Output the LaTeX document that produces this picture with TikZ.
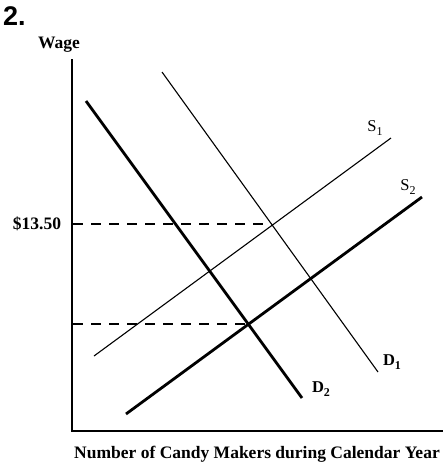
\documentclass[tikz,border=0pt]{standalone}
\usepackage{fontspec}
\setmainfont{Liberation Serif}
\newfontfamily\headfont{Liberation Sans}
\newcommand{\lowidx}[1]{\raisebox{-0.45ex}{\fontsize{12}{12}\selectfont #1}}
\begin{document}
\begin{tikzpicture}[x=1pt,y=-1pt,
    axis/.style={line width=2.8pt},
    thinline/.style={line width=1.1pt},
    boldline/.style={line width=2.8pt},
    guide/.style={line width=1.1pt, dash pattern=on 10pt off 8pt},
    lbl/.style={font=\fontsize{17.5}{20}\selectfont\bfseries, inner sep=0pt},
    curvelbl/.style={font=\fontsize{16.5}{19}\selectfont, inner sep=0pt}]
    \useasboundingbox (0,0) rectangle (445,467);
    % Osy grafu (souradnice v pixelech, y dolu)
    \coordinate (origin) at (72,431);
    \coordinate (ytop) at (72,59);
    \coordinate (xend) at (443,431);
    \draw[axis] (ytop) -- (origin) -- (xend);

    % Nabidka a poptavka
    \coordinate (d1a) at (162,72);  \coordinate (d1b) at (378,372);
    \coordinate (d2a) at (86,101);  \coordinate (d2b) at (302,398);
    \coordinate (s1a) at (94,356);  \coordinate (s1b) at (391,138);
    \coordinate (s2a) at (126,414); \coordinate (s2b) at (422,197);
    \draw[thinline] (d1a) -- (d1b);
    \draw[boldline] (d2a) -- (d2b);
    \draw[thinline] (s1a) -- (s1b);
    \draw[boldline] (s2a) -- (s2b);

    % Rovnovazne body a vodici cary
    \coordinate (eqold) at (271,224);
    \coordinate (eqnew) at (247,324);
    \draw[guide] (73,224) -- (eqold);
    \draw[guide] (73,324) -- (eqnew);

    % Popisky
    \node[font=\headfont\fontsize{27}{30}\selectfont\bfseries, inner sep=0pt, anchor=north west] (num) at (3,6) {2.};
    \node[lbl] (wage) at (59,45) {Wage};
    \node[lbl] (price) at (37,224) {\$13.50};
    \node[lbl] (qty) at (257,454) {Number of Candy Makers during Calendar Year};
    \node[curvelbl] (s1lbl) at (375,128) {S\lowidx{1}};
    \node[curvelbl] (s2lbl) at (408,187) {S\lowidx{2}};
    \node[lbl, font=\fontsize{16.5}{19}\selectfont\bfseries] (d1lbl) at (392,362) {D\lowidx{\bfseries 1}};
    \node[lbl, font=\fontsize{16.5}{19}\selectfont\bfseries] (d2lbl) at (321,389) {D\lowidx{\bfseries 2}};
\end{tikzpicture}
\end{document}
